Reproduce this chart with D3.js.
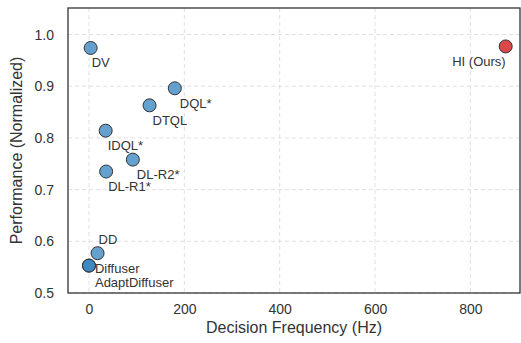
<!DOCTYPE html>
<html>
<head>
<meta charset="utf-8">
<script src="https://cdn.jsdelivr.net/npm/d3@7"></script>
<style>
  body { margin: 0; background: #fff; }
  text { font-family: "Liberation Sans", Arial, sans-serif; fill: #333; }
  .grid line { stroke: #dcdcdc; stroke-dasharray: 4,3; stroke-width: 0.9; }
</style>
</head>
<body>
<svg width="521" height="343"></svg>
<script>
// methods and their measured values
let methods = ["DV", "DQL*", "DTQL", "IDQL*", "DL-R2*", "DL-R1*", "DD", "Diffuser", "AdaptDiffuser", "HI (Ours)"];
let frequency = [3.5, 180, 127, 35, 92, 36, 18, 0, 0, 874];
let performance = [0.974, 0.896, 0.863, 0.814, 0.758, 0.735, 0.577, 0.553, 0.553, 0.977];
let xTicks = [0, 200, 400, 600, 800];
let yTicks = [0.5, 0.6, 0.7, 0.8, 0.9, 1.0];

// label placement relative to each point (px)
let labelDx = [1, 5, 3, 2, 4, 2, 1, 6, 6, 0];
let labelDy = [19, 20, 20, 19, 19, 19, -9, 7, 21, 20];
let labelAnchor = ["start", "start", "start", "start", "start", "start", "start", "start", "start", "end"];

let margin = { top: 8, right: 1, bottom: 50, left: 68 },
  svg = d3.select("svg"),
  width = +svg.attr("width") - margin.left - margin.right,
  height = +svg.attr("height") - margin.top - margin.bottom;

let g = svg.append("g")
  .attr("transform", "translate(" + margin.left + "," + margin.top + ")");

let x = d3.scaleLinear().domain([-44, 904]).range([0, width]),
  y = d3.scaleLinear().domain([0.5, 1.0513]).range([height, 0]);

// grid
g.append("g").attr("class", "grid")
  .selectAll("line").data(xTicks).enter().append("line")
  .attr("x1", d => x(d)).attr("x2", d => x(d))
  .attr("y1", 0).attr("y2", height);
g.append("g").attr("class", "grid")
  .selectAll("line").data(yTicks).enter().append("line")
  .attr("x1", 0).attr("x2", width)
  .attr("y1", d => y(d)).attr("y2", d => y(d));

// axes (no tick marks, just labels)
let xAxis = g.append("g")
  .attr("transform", "translate(0," + height + ")")
  .call(d3.axisBottom(x).tickValues(xTicks).tickSize(0).tickPadding(11));
let yAxis = g.append("g")
  .call(d3.axisLeft(y).tickValues(yTicks).tickFormat(d3.format(".1f")).tickSize(0).tickPadding(14));
[xAxis, yAxis].forEach(a => {
  a.select(".domain").remove();
  a.selectAll("text").style("font-size", "14px").style("fill", "#333")
    .style("font-family", "'Liberation Sans', Arial, sans-serif");
});

// frame
g.append("rect")
  .attr("width", width).attr("height", height)
  .attr("fill", "none").attr("stroke", "#333").attr("stroke-width", 1.3);

let points = methods.map((m, i) => ({
  name: m, f: frequency[i], p: performance[i],
  dx: labelDx[i], dy: labelDy[i], anchor: labelAnchor[i]
}));

g.selectAll("circle.pt")
  .data(points)
  .enter()
  .append("circle")
  .attr("class", "pt")
  .attr("cx", d => x(d.f))
  .attr("cy", d => y(d.p))
  .attr("r", 6.5)
  .style("fill", d => d.name === "HI (Ours)" ? "#d62728" : "#3182bd")
  .style("fill-opacity", d => d.name === "HI (Ours)" ? 0.85 : 0.75)
  .style("stroke", "#333")
  .style("stroke-width", 1);

g.selectAll("text.lbl")
  .data(points)
  .enter()
  .append("text")
  .attr("class", "lbl")
  .attr("x", d => x(d.f) + d.dx)
  .attr("y", d => y(d.p) + d.dy)
  .attr("text-anchor", d => d.anchor)
  .style("font-size", "13px")
  .text(d => d.name);

// axis titles
svg.append("text")
  .attr("x", margin.left + width / 2)
  .attr("y", 333)
  .attr("text-anchor", "middle")
  .style("font-size", "16px")
  .text("Decision Frequency (Hz)");

svg.append("text")
  .attr("transform", "translate(22," + (margin.top + height / 2) + ") rotate(-90)")
  .attr("text-anchor", "middle")
  .style("font-size", "16px")
  .text("Performance (Normalized)");
</script>
</body>
</html>
